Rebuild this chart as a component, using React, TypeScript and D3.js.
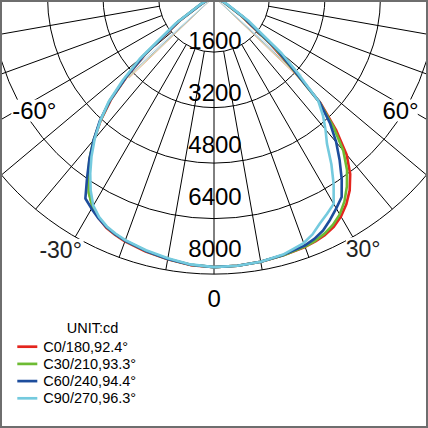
import React from 'react';
import * as d3 from 'd3';

// Polar angles (degrees from nadir) at which intensities are read
const ANGLES = [0, 5, 10, 15, 20, 22.5, 25, 27.5, 30, 32.5, 35, 37.5, 40, 42.5, 45, 47.5, 50, 55, 60, 65, 70, 80, 90];

// Right half-planes (cd)
const C0 = [7800, 7790, 7760, 7720, 7680, 7640, 7580, 7480, 7320, 7100, 6820, 6450, 5950, 5200, 4350, 3000, 2150, 950, 330, 100, 30, 0, 0];
const C30 = [7800, 7790, 7760, 7720, 7670, 7620, 7540, 7420, 7250, 7000, 6680, 6300, 5800, 5100, 4300, 3050, 2250, 1000, 350, 100, 30, 0, 0];
const C60 = [7800, 7790, 7760, 7710, 7640, 7560, 7440, 7250, 7050, 6850, 6420, 5950, 5480, 4950, 4300, 3100, 2350, 1050, 370, 100, 30, 0, 0];
const C90 = [7800, 7790, 7760, 7700, 7560, 7420, 7220, 7060, 6900, 6420, 5900, 5350, 5000, 4650, 4250, 3300, 2550, 1200, 420, 110, 30, 0, 0];
// Left half-planes (cd)
const C180 = [7800, 7770, 7690, 7610, 7510, 7440, 7350, 7200, 7000, 6700, 6300, 5880, 5380, 4830, 4200, 3400, 2600, 1200, 400, 110, 30, 0, 0];
const C210 = [7800, 7760, 7680, 7590, 7490, 7420, 7330, 7190, 7000, 6720, 6320, 5900, 5400, 4850, 4250, 3450, 2680, 1250, 420, 120, 30, 0, 0];
const C240 = [7800, 7760, 7680, 7590, 7490, 7420, 7330, 7210, 7060, 6900, 6380, 5900, 5400, 4880, 4250, 3450, 2650, 1250, 420, 120, 30, 0, 0];
const C270 = [7800, 7750, 7660, 7570, 7470, 7400, 7310, 7170, 6960, 6620, 6220, 5800, 5350, 4850, 4300, 3560, 2800, 1350, 480, 130, 30, 0, 0];

const SERIES_NAMES = ['C0/180,92.4°', 'C30/210,93.3°', 'C60/240,94.4°', 'C90/270,96.3°'];
const BEAM_ANGLES = [92.4, 93.3, 94.4, 96.3];
const BEAM_LINE_CD = 3400;
const COLORS = ['#e4251d', '#6dbb33', '#1d4d9c', '#74cade'];
const BEAM_COLORS = ['#f1b29c', '#c2dfa6', '#a3afcc', '#bfe3ec'];

const RING_VALUES = [1600, 3200, 4800, 6400, 8000];
const RING_LABELS = ['1600', '3200', '4800', '6400', '8000'];
const SPOKE_ANGLES = [-80, -70, -60, -50, -40, -30, -20, -10, 10, 20, 30, 40, 50, 60, 70, 80];
const DEG_LABELS = ['-60°', '60°', '-30°', '30°'];
const DEG_LABEL_ANGLES = [-57.6, 58.6, -31.2, 30.65];
const DEG_LABEL_RADII_CD = [6135, 6300, 8535, 8435];
const ZERO_LABEL = '0';
const UNIT_LABEL = 'UNIT:cd';

const W = 428;
const H = 428;
const CX = 214;
const CY = -3.4;
const RMAX = 277.5;
const FONT = "'Liberation Sans', Arial, sans-serif";

export default function App() {
  const r = d3.scaleLinear().domain([0, 8000]).range([0, RMAX]);
  const labelY = d3.scaleLinear().domain([1600, 8000]).range([48.5, 256.5]);
  const xy = (deg: number, v: number): [number, number] => {
    const a = (deg * Math.PI) / 180;
    return [CX + r(v) * Math.sin(a), CY + r(v) * Math.cos(a)];
  };
  const line = d3
    .lineRadial<[number, number]>()
    .angle((d) => Math.PI - (d[0] * Math.PI) / 180)
    .radius((d) => r(d[1]));

  const pairs = [
    [C0, C180],
    [C30, C210],
    [C60, C240],
    [C90, C270],
  ];
  const paths = pairs.map(([right, left]) => {
    const pts: [number, number][] = [];
    for (let i = ANGLES.length - 1; i >= 0; i--) pts.push([-ANGLES[i], left[i]]);
    for (let i = 1; i < ANGLES.length; i++) pts.push([ANGLES[i], right[i]]);
    return line(pts) as string;
  });

  const legendRowY = d3.scaleLinear().domain([0, 3]).range([346.7, 398.3]);

  return (
    <svg
      width={W}
      height={H}
      style={{ position: 'absolute', left: 0, top: 0, display: 'block', background: '#fff' }}
      fontFamily={FONT}
    >
      <rect x={0} y={0} width={W} height={H} fill="#fff" />
      {/* rings */}
      {RING_VALUES.map((v) => (
        <circle key={v} cx={CX} cy={CY} r={r(v)} fill="none" stroke="#000" strokeWidth={1} />
      ))}
      {/* spokes */}
      {SPOKE_ANGLES.map((a) => {
        const [x1, y1] = xy(a, RING_VALUES[0]);
        const [x2, y2] = xy(a, RING_VALUES[RING_VALUES.length - 1]);
        return <line key={a} x1={x1} y1={y1} x2={x2} y2={y2} stroke="#000" strokeWidth={1} />;
      })}
      {(() => {
        const [x2, y2] = xy(0, RING_VALUES[RING_VALUES.length - 1]);
        return <line x1={CX} y1={CY} x2={x2} y2={y2} stroke="#000" strokeWidth={1} />;
      })()}
      {/* ring labels */}
      {RING_VALUES.map((v, i) => (
        <text key={v} x={215} y={labelY(v)} textAnchor="middle" fontSize={24} fill="#000">
          {RING_LABELS[i]}
        </text>
      ))}
      {/* degree labels */}
      {DEG_LABELS.map((t, i) => {
        const [x, y] = xy(DEG_LABEL_ANGLES[i], DEG_LABEL_RADII_CD[i]);
        const w = t.length * 11.5;
        return (
          <g key={t}>
            <rect x={x - w / 2} y={y - 11} width={w} height={22} fill="#fff" />
            <text x={x} y={y} dy="0.36em" textAnchor="middle" fontSize={i < 2 ? 24 : 23} fill={i < 2 ? '#000' : '#222'}>
              {t}
            </text>
          </g>
        );
      })}
      <text x={214.3} y={298} dy="0.36em" textAnchor="middle" fontSize={24} fill="#000">
        {ZERO_LABEL}
      </text>
      {/* beam lines */}
      {BEAM_ANGLES.map((b, i) => {
        const [xl, yl] = xy(-b / 2, BEAM_LINE_CD);
        const [xr, yr] = xy(b / 2, BEAM_LINE_CD);
        return (
          <g key={'b' + i}>
            <line x1={CX} y1={CY} x2={xl} y2={yl} stroke={BEAM_COLORS[i]} strokeWidth={1} />
            <line x1={CX} y1={CY} x2={xr} y2={yr} stroke={BEAM_COLORS[i]} strokeWidth={1} />
          </g>
        );
      })}
      {/* curves */}
      <g transform={`translate(${CX},${CY})`}>
        {paths.map((p, i) => (
          <path key={i} d={p} fill="none" stroke={COLORS[i]} strokeWidth={2.6} strokeLinejoin="round" />
        ))}
      </g>
      {/* legend */}
      <text x={92.5} y={333} textAnchor="middle" fontSize={14.5} fill="#000">
        {UNIT_LABEL}
      </text>
      {SERIES_NAMES.map((n, i) => (
        <g key={n}>
          <line x1={17.3} x2={37.3} y1={legendRowY(i)} y2={legendRowY(i)} stroke={COLORS[i]} strokeWidth={2.7} />
          <text x={43.3} y={legendRowY(i) + 5} fontSize={14.5} fill="#000">
            {n}
          </text>
        </g>
      ))}
      {/* frame */}
      <rect x={1} y={1} width={W - 2} height={H - 2} fill="none" stroke="#6e6e6e" strokeWidth={2} />
    </svg>
  );
}
